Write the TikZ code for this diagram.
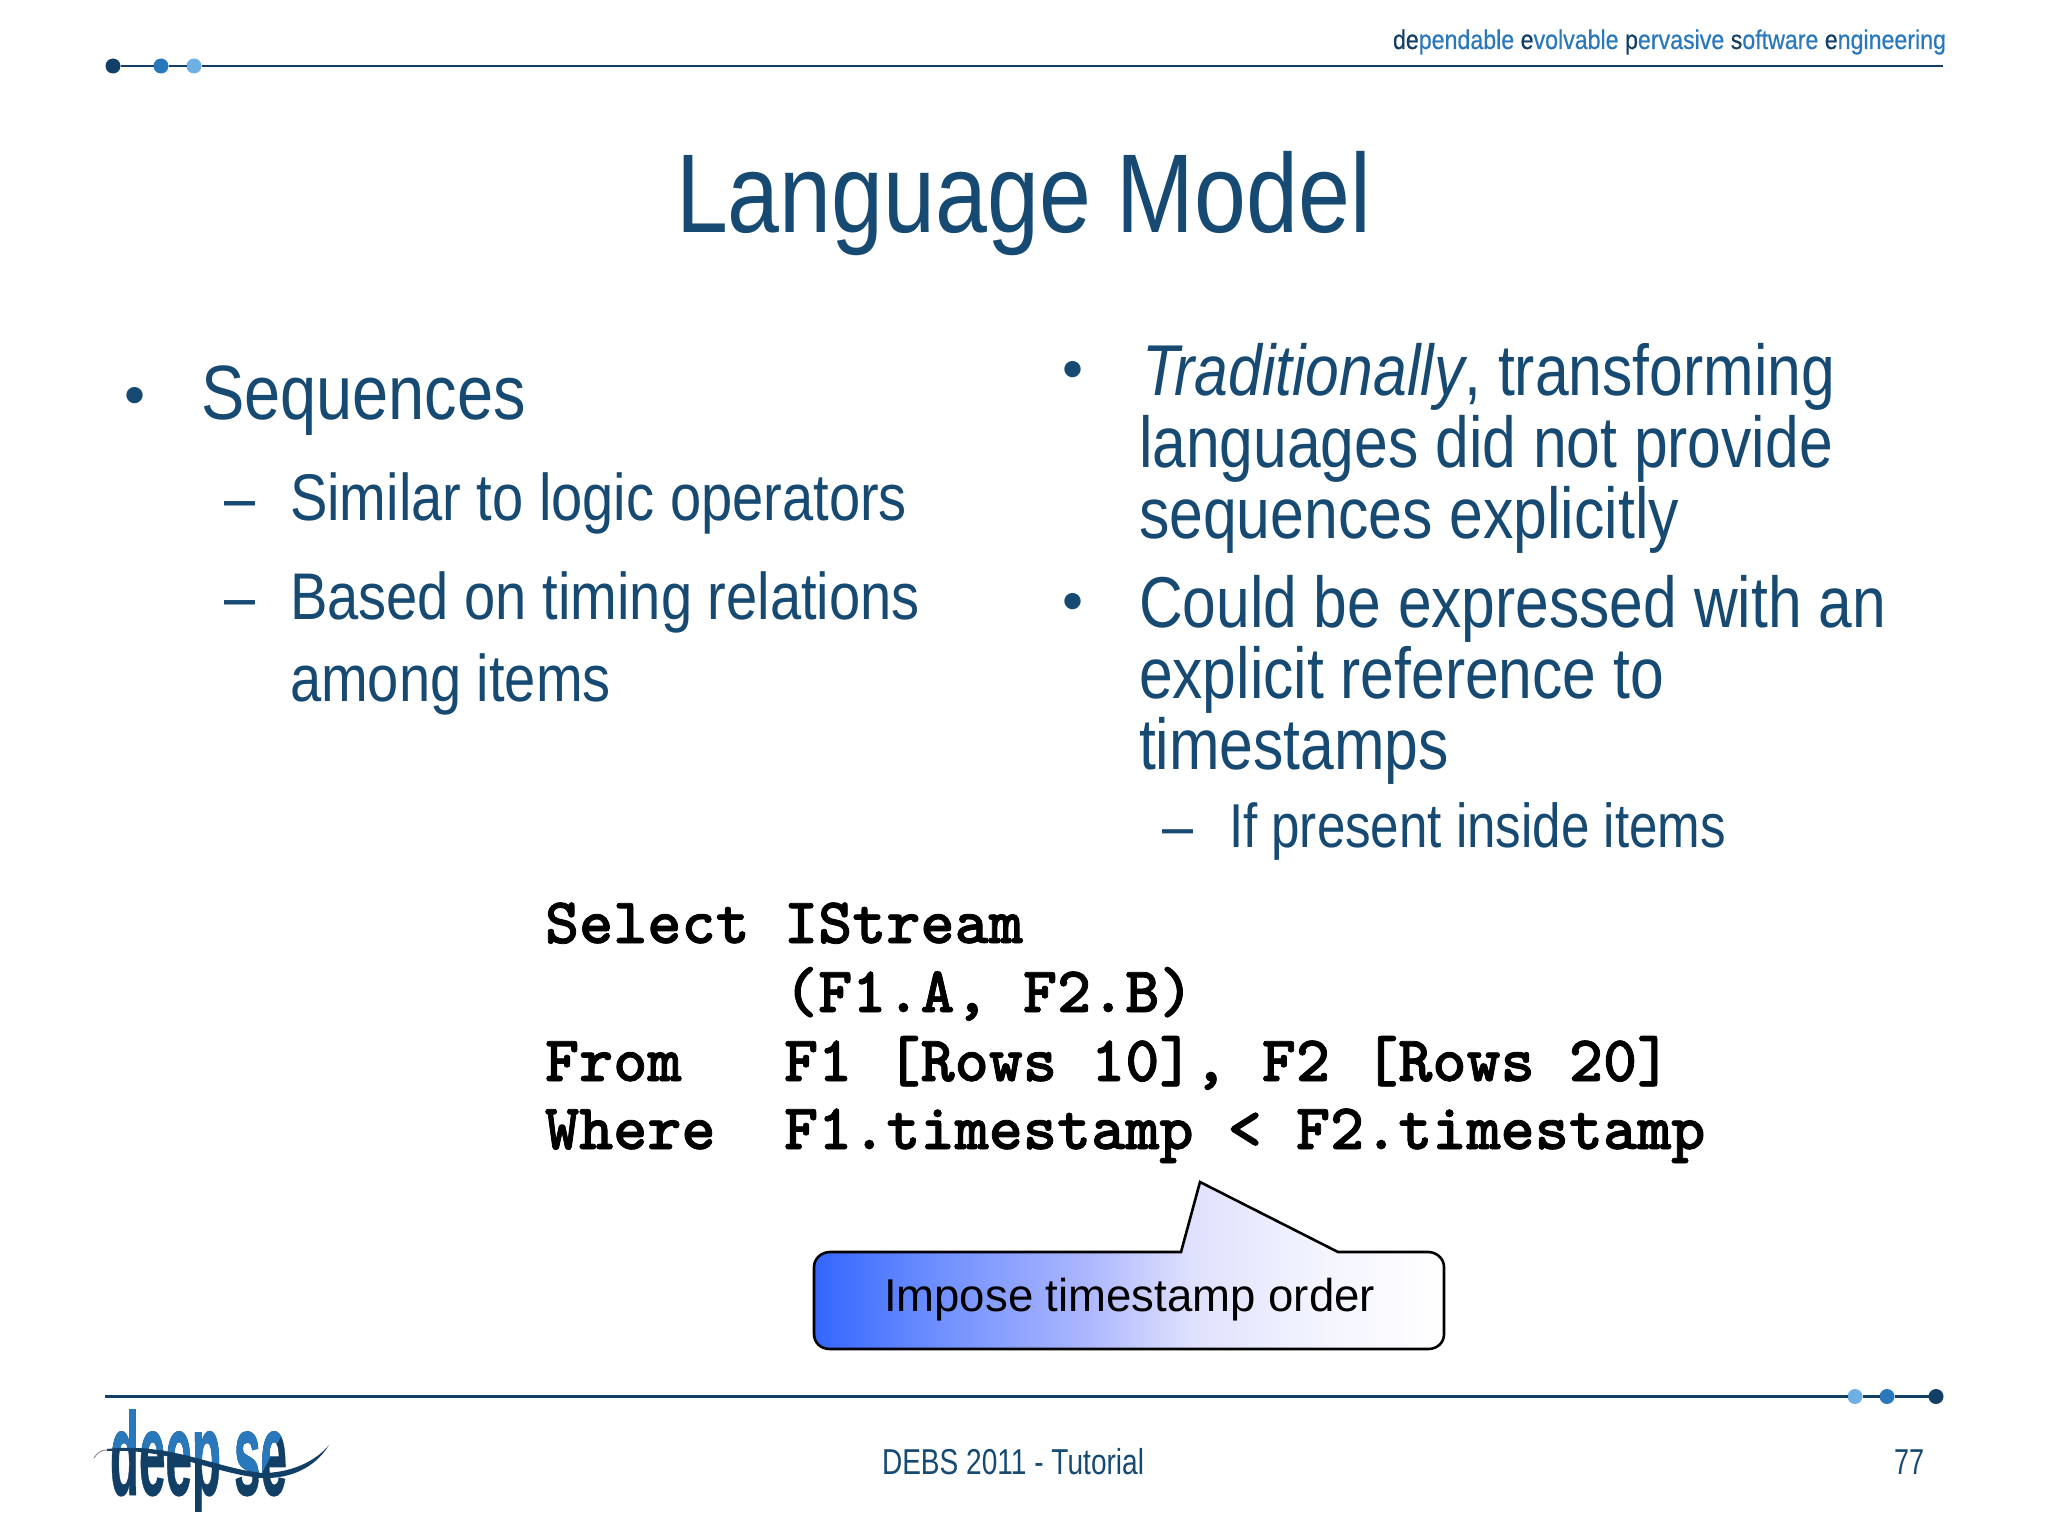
\documentclass[tikz,border=0pt]{standalone}
\usepackage{fontspec}
\usepackage{graphicx}
\setmainfont{Liberation Sans}
\newfontfamily\logofont[BoldFeatures={FakeBold=0.8}]{Liberation Sans}
\newfontfamily\tagfont[FakeBold=0.5]{Liberation Sans}
\newfontfamily\codefont[FakeBold=1.2]{lmmonolt10-bold.otf}
\definecolor{navy}{HTML}{164A72}
\definecolor{ruleblue}{HTML}{123F66}
\definecolor{midblue}{HTML}{2A78BC}
\definecolor{lightblue}{HTML}{6FB0E4}
\definecolor{calloutblue}{HTML}{3366FF}
\definecolor{cs1}{HTML}{7090FF}
\definecolor{cs2}{HTML}{A9B4FF}
\definecolor{cs3}{HTML}{DFE1FD}
\definecolor{cs4}{HTML}{F3F4FF}
\pgfdeclarehorizontalshading{callshade}{100bp}{color(0bp)=(calloutblue); color(25bp)=(calloutblue); color(35bp)=(cs1); color(46bp)=(cs2); color(55bp)=(cs3); color(65bp)=(cs4); color(75bp)=(white); color(100bp)=(white)}
\newcommand{\fw}[2]{\resizebox{#1pt}{\height}{#2}}
\newcommand{\fs}[1]{\fontsize{#1pt}{#1pt}\selectfont}
\tikzset{
  txt/.style={anchor=base west,inner sep=0pt,outer sep=0pt,text=navy},
  big/.style={txt,font=\fs{77}},
  mid/.style={txt,font=\fs{72}},
  sub/.style={txt,font=\fs{66}},
  small/.style={txt,font=\fs{62}},
  bul/.style={txt,font=\fs{60}},
  code/.style={anchor=base west,inner sep=0pt,outer sep=0pt,text=black,font=\codefont\fs{65}},
  dot/.style={circle,minimum size=15pt,inner sep=0pt,outer sep=0pt},
  rulel/.style={draw=ruleblue,line width=2.6pt},
  foot/.style={txt,font=\fs{36}}
}
\begin{document}
\begin{tikzpicture}[x=1pt,y=-1pt]
\useasboundingbox (0,0) rectangle (2048,1536);
\fill[white] (0,0) rectangle (2048,1536);
% header
\node[dot,fill=ruleblue] (d1) at (113,66) {};
\node[dot,fill=midblue] (d2) at (161,66) {};
\node[dot,fill=lightblue] (d3) at (194,66) {};
\coordinate (topend) at (1943,66);
\draw[rulel] (d1) -- (d2);
\draw[rulel] (d2) -- (d3);
\draw[rulel] (d3) -- (topend);
\node[txt,text=midblue,font=\tagfont\fs{27}] (tagline) at (1393,49) {\fw{553}{{\color{ruleblue}de}pendable {\color{ruleblue}e}volvable {\color{ruleblue}p}ervasive {\color{ruleblue}s}oftware {\color{ruleblue}e}ngineering}};
% title
\node[txt,font=\fs{112}] (title) at (676,232) {\fw{695}{Language Model}};
% left column
\node[bul] (b1) at (124,415) {•};
\node[big] (l1) at (201,419) {\fw{325}{Sequences}};
\node[sub] (d11) at (224,520) {\fw{31}{–}};
\node[sub] (l2) at (290,520) {\fw{617}{Similar to logic operators}};
\node[sub] (d12) at (224,619) {\fw{31}{–}};
\node[sub] (l3) at (290,619) {\fw{630}{Based on timing relations}};
\node[sub] (l4) at (290,701) {\fw{321}{among items}};
% right column
\node[bul] (b2) at (1062,389) {•};
\node[mid] (r1) at (1142,395) {\fw{693}{\textit{Traditionally}, transforming}};
\node[mid] (r2) at (1139,467) {\fw{694}{languages did not provide}};
\node[mid] (r3) at (1139,538) {\fw{540}{sequences explicitly}};
\node[bul] (b3) at (1062,621) {•};
\node[mid] (r4) at (1139,627) {\fw{747}{Could be expressed with an}};
\node[mid] (r5) at (1139,698) {\fw{525}{explicit reference to}};
\node[mid] (r6) at (1139,769) {\fw{310}{timestamps}};
\node[small] (d21) at (1162,847) {\fw{31}{–}};
\node[small] (r7) at (1229,847) {\fw{497}{If present inside items}};
% code
\node[code] (c1a) at (545,943) {Select};
\node[code] (c1b) at (784,943) {IStream};
\node[code] (c2b) at (784,1012) {(F1.A, F2.B)};
\node[code] (c3a) at (545,1081) {From};
\node[code] (c3b) at (784,1081) {F1 [Rows 10], F2 [Rows 20]};
\node[code] (c4a) at (545,1149) {Where};
\node[code] (c4b) at (784,1149) {F1.timestamp < F2.timestamp};
% callout
\path[draw=black,line width=2.6pt,shading=callshade,line join=miter]
  (1200,1182) -- (1338,1252) -- (1428,1252) .. controls (1437,1252) and (1444,1259) .. (1444,1267)
  -- (1444,1334) .. controls (1444,1343) and (1437,1349) .. (1428,1349)
  -- (830,1349) .. controls (821,1349) and (814,1343) .. (814,1334)
  -- (814,1267) .. controls (814,1259) and (821,1252) .. (830,1252)
  -- (1181,1252) -- cycle;
\node[txt,text=black,font=\fs{46}] (calltext) at (884,1311) {\fw{491}{Impose timestamp order}};
% footer
\node[dot,fill=ruleblue] (f1) at (1936,1396.5) {};
\node[dot,fill=midblue] (f2) at (1887,1396.5) {};
\node[dot,fill=lightblue] (f3) at (1855,1396.5) {};
\coordinate (botstart) at (105,1396.5);
\draw[rulel] (f1) -- (f2);
\draw[rulel] (f2) -- (f3);
\draw[rulel] (f3) -- (botstart);
\node[foot] (debs) at (882,1474) {\fw{262}{DEBS 2011 - Tutorial}};
\node[foot] (pageno) at (1894,1474) {\fw{30}{77}};
% logo
\begin{scope}
  \clip (90,1400) rectangle (300,1511);
  \node[txt,text=ruleblue,font=\logofont\bfseries\fs{118}] (logo) at (110,1495) {\fw{177}{deep se}};
\end{scope}
\begin{scope}
  \clip (90,1400) -- (90,1449) -- (107,1449) .. controls (170,1442) and (215,1468) .. (262,1473) -- (300,1400) -- cycle;
  \node[txt,text=midblue,font=\logofont\bfseries\fs{118}] (logolight) at (110,1495) {\fw{177}{deep se}};
\end{scope}
\fill[ruleblue] (107,1449) .. controls (170,1442) and (215,1468) .. (262,1473)
  .. controls (290,1473) and (315,1462) .. (329,1445)
  .. controls (315,1468) and (290,1479) .. (262,1478)
  .. controls (215,1474) and (170,1448) .. (107,1451) -- cycle;
\draw[gray,line width=.8pt] (94,1458) .. controls (97,1453) and (101,1450) .. (107,1450);
\end{tikzpicture}
\end{document}
